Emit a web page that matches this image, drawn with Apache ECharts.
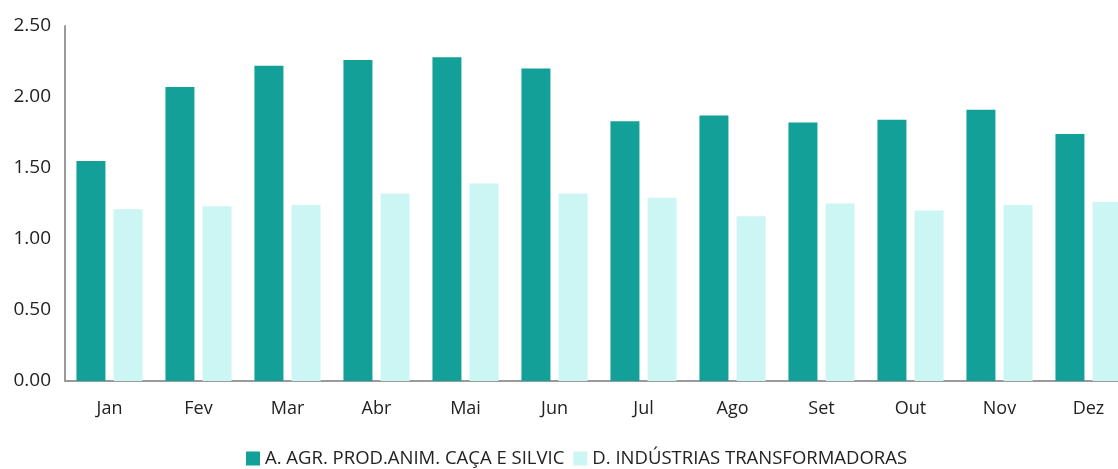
<!DOCTYPE html>
<html>
<head>
<meta charset="utf-8">
<script src="https://cdn.jsdelivr.net/npm/echarts@6/dist/echarts.min.js"></script>
<style>
  html, body { margin: 0; padding: 0; background: #fff; }
  #chart { width: 1118px; height: 469px; }
</style>
</head>
<body>
<div id="chart"></div>
<script>
  const months = ["Jan", "Fev", "Mar", "Abr", "Mai", "Jun", "Jul", "Ago", "Set", "Out", "Nov", "Dez"];
  const agrName = "A. AGR. PROD.ANIM. CAÇA E SILVIC";
  const indName = "D. INDÚSTRIAS TRANSFORMADORAS";
  const agrValues = [1.55, 2.07, 2.22, 2.26, 2.28, 2.20, 1.83, 1.87, 1.82, 1.84, 1.91, 1.74];
  const indValues = [1.21, 1.23, 1.24, 1.32, 1.39, 1.32, 1.29, 1.16, 1.25, 1.20, 1.24, 1.26];

  const font = "'Open Sans', 'Noto Sans', sans-serif";
  const chart = echarts.init(document.getElementById("chart"));

  chart.setOption({
    animation: false,
    textStyle: { fontFamily: font, color: "#222" },
    grid: { left: 65, top: 26, bottom: 88, width: 1068, outerBoundsMode: "none", containLabel: false },
    legend: {
      left: 241,
      top: 444,
      itemWidth: 14,
      itemHeight: 14,
      itemGap: 9,
      itemStyle: { borderWidth: 0 },
      icon: "rect",
      textStyle: { fontFamily: font, fontSize: 18.5, color: "#222" },
      data: [agrName, indName]
    },
    xAxis: {
      type: "category",
      data: months,
      axisTick: { show: false },
      axisLine: { lineStyle: { color: "#9a9a9a", width: 2 } },
      axisLabel: { fontSize: 18, color: "#222", margin: 19 }
    },
    yAxis: {
      type: "value",
      min: 0,
      max: 2.5,
      interval: 0.5,
      splitLine: { show: false },
      axisTick: { show: false },
      axisLine: { show: true, lineStyle: { color: "#9a9a9a", width: 2 } },
      axisLabel: {
        fontSize: 19,
        color: "#222",
        margin: 14,
        formatter: v => v.toFixed(2)
      }
    },
    series: [
      {
        name: agrName,
        type: "bar",
        data: agrValues,
        barWidth: 29,
        barGap: "28%",
        itemStyle: { color: "#12A098" }
      },
      {
        name: indName,
        type: "bar",
        data: indValues,
        barWidth: 29,
        itemStyle: { color: "#CBF6F4" }
      }
    ]
  });
</script>
</body>
</html>
